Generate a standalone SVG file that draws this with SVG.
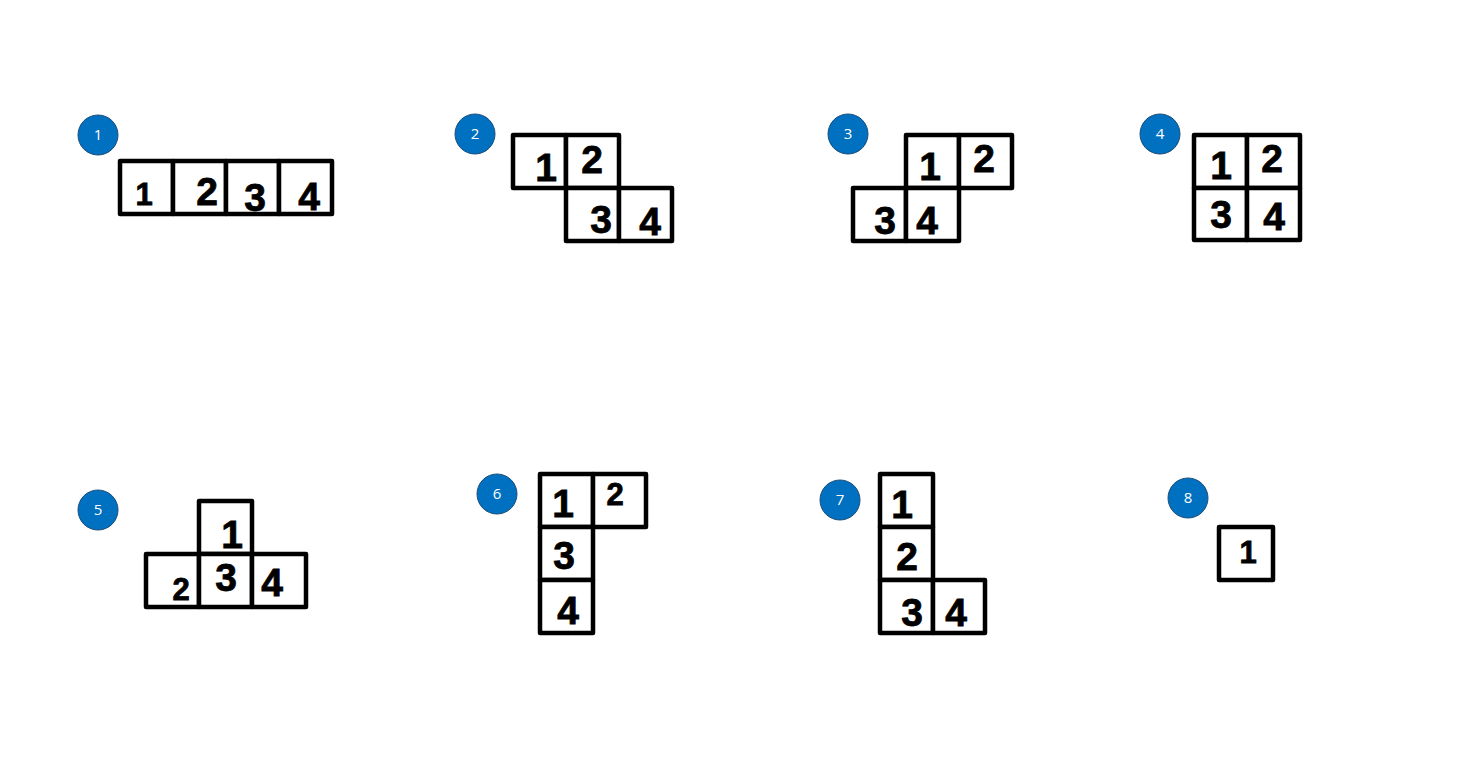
<svg xmlns="http://www.w3.org/2000/svg" width="1460" height="776" viewBox="0 0 1460 776">
<style>
.cell{fill:#fff;stroke:#000;stroke-width:4.5;stroke-linejoin:round}
.badge{fill:#0070C0;stroke:#1F4E79;stroke-width:1}
.bt{fill:#fff;font-family:"Open Sans","Noto Sans",sans-serif;font-size:15px;text-anchor:middle}
.d{fill:#000;stroke:#000;stroke-width:0.8;font-family:"Liberation Sans",Arial,sans-serif;font-weight:bold;font-size:39px;text-anchor:middle}
.s{font-size:31px}
</style>
<rect width="1460" height="776" fill="#fff"/>

<g id="panel1">
<circle class="badge" cx="98" cy="135" r="20"/><text class="bt" x="98" y="140">1</text>
<rect class="cell" x="120" y="161" width="53" height="53"/>
<rect class="cell" x="173" y="161" width="53" height="53"/>
<rect class="cell" x="226" y="161" width="53" height="53"/>
<rect class="cell" x="279" y="161" width="53" height="53"/>
<text class="d s" x="144" y="205">1</text>
<text class="d" x="207" y="205">2</text>
<text class="d" x="255" y="211">3</text>
<text class="d" x="309" y="210">4</text>
</g>

<g id="panel2">
<circle class="badge" cx="475" cy="134" r="20"/><text class="bt" x="475" y="139">2</text>
<rect class="cell" x="513" y="135" width="53" height="53"/>
<rect class="cell" x="566" y="135" width="53" height="53"/>
<rect class="cell" x="566" y="188" width="53" height="53"/>
<rect class="cell" x="619" y="188" width="53" height="53"/>
<text class="d" x="546" y="181">1</text>
<text class="d" x="592" y="173">2</text>
<text class="d" x="601" y="233">3</text>
<text class="d" x="650" y="235">4</text>
</g>

<g id="panel3">
<circle class="badge" cx="848" cy="134" r="20"/><text class="bt" x="848" y="139">3</text>
<rect class="cell" x="906" y="135" width="53" height="53"/>
<rect class="cell" x="959" y="135" width="53" height="53"/>
<rect class="cell" x="853" y="188" width="53" height="53"/>
<rect class="cell" x="906" y="188" width="53" height="53"/>
<text class="d" x="930" y="180">1</text>
<text class="d" x="984" y="172">2</text>
<text class="d" x="885" y="234">3</text>
<text class="d" x="927" y="234">4</text>
</g>

<g id="panel4">
<circle class="badge" cx="1160" cy="134" r="20"/><text class="bt" x="1160" y="139">4</text>
<rect class="cell" x="1194" y="135" width="53" height="53"/>
<rect class="cell" x="1247" y="135" width="53" height="53"/>
<rect class="cell" x="1194" y="188" width="53" height="52"/>
<rect class="cell" x="1247" y="188" width="53" height="52"/>
<text class="d" x="1221" y="179">1</text>
<text class="d" x="1272" y="172">2</text>
<text class="d" x="1221" y="228">3</text>
<text class="d" x="1274" y="230">4</text>
</g>

<g id="panel5">
<circle class="badge" cx="98" cy="510" r="20"/><text class="bt" x="98" y="515">5</text>
<rect class="cell" x="199" y="501" width="53" height="53"/>
<rect class="cell" x="146" y="554" width="53" height="53"/>
<rect class="cell" x="199" y="554" width="53" height="53"/>
<rect class="cell" x="252" y="554" width="54" height="53"/>
<text class="d" x="232" y="548">1</text>
<text class="d s" x="181" y="600">2</text>
<text class="d" x="226" y="591">3</text>
<text class="d" x="272" y="596">4</text>
</g>

<g id="panel6">
<circle class="badge" cx="497" cy="494" r="20"/><text class="bt" x="497" y="499">6</text>
<rect class="cell" x="540" y="474" width="53" height="53"/>
<rect class="cell" x="593" y="474" width="53" height="53"/>
<rect class="cell" x="540" y="527" width="53" height="53"/>
<rect class="cell" x="540" y="580" width="53" height="53"/>
<text class="d" x="563" y="517">1</text>
<text class="d s" x="615" y="505">2</text>
<text class="d" x="564" y="569">3</text>
<text class="d" x="568" y="624">4</text>
</g>

<g id="panel7">
<circle class="badge" cx="840" cy="500" r="20"/><text class="bt" x="840" y="505">7</text>
<rect class="cell" x="880" y="474" width="53" height="53"/>
<rect class="cell" x="880" y="527" width="53" height="53"/>
<rect class="cell" x="880" y="580" width="53" height="53"/>
<rect class="cell" x="933" y="580" width="52" height="53"/>
<text class="d" x="902" y="518">1</text>
<text class="d" x="907" y="570">2</text>
<text class="d" x="912" y="626">3</text>
<text class="d" x="956" y="626">4</text>
</g>

<g id="panel8">
<circle class="badge" cx="1188" cy="498" r="20"/><text class="bt" x="1188" y="503">8</text>
<rect class="cell" x="1219" y="527" width="54" height="53"/>
<text class="d s" x="1248" y="563">1</text>
</g>
</svg>
